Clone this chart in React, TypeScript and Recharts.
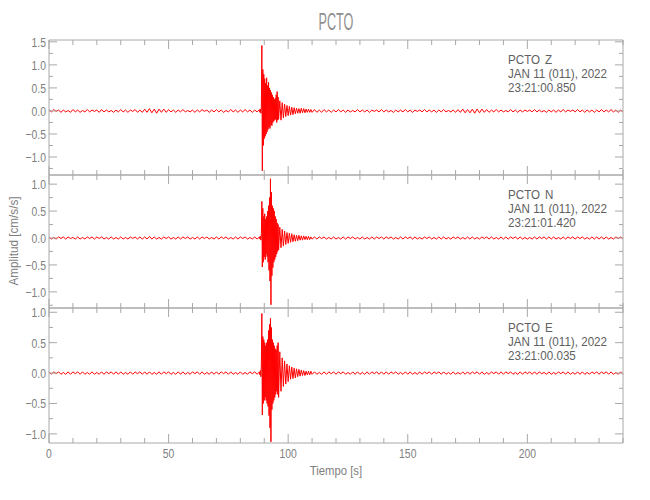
import React from "react";
import { LineChart, Line, XAxis, YAxis } from "recharts";

// sample times [s]; 1 s in the quiet parts, denser around the arrival
const TIME = [
  0, 1, 2, 3, 4, 5, 6, 7, 8, 9, 10, 11, 12, 13, 14, 15, 16, 17, 18, 19,
  20, 21, 22, 23, 24, 25, 26, 27, 28, 29, 30, 31, 32, 33, 34, 35, 36, 37, 38, 39,
  40, 41, 42, 43, 44, 45, 46, 47, 48, 49, 50, 51, 52, 53, 54, 55, 56, 57, 58, 59,
  60, 61, 62, 63, 64, 65, 66, 67, 68, 69, 70, 71, 72, 73, 74, 75, 76, 77, 78, 79,
  80, 81, 82, 83, 84, 85, 86, 87, 88,
  88.2, 88.4, 88.6, 88.8, 89.0, 89.2, 89.4, 89.6, 89.8, 90.0,
  90.2, 90.4, 90.6, 90.8, 91.0, 91.2, 91.4, 91.6, 91.8, 92.0,
  92.2, 92.4, 92.6, 92.8, 93.0, 93.2, 93.4, 93.6, 93.8, 94.0,
  94.2, 94.4, 94.6, 94.8, 95.0, 95.2, 95.4, 95.6, 95.8, 96.0,
  96.5, 97, 97.5, 98, 98.5, 99, 99.5, 100, 100.5, 101, 101.5, 102, 102.5, 103,
  103.5, 104, 104.5, 105, 105.5, 106, 106.5, 107, 107.5, 108, 108.5, 109, 109.5, 110,
  111, 112, 113, 114, 115, 116, 117, 118, 119, 120, 121, 122, 123, 124, 125, 126, 127, 128, 129, 130,
  131, 132, 133, 134, 135, 136, 137, 138, 139, 140, 141, 142, 143, 144, 145, 146, 147, 148, 149, 150,
  151, 152, 153, 154, 155, 156, 157, 158, 159, 160, 161, 162, 163, 164, 165, 166, 167, 168, 169, 170,
  171, 172, 173, 174, 175, 176, 177, 178, 179, 180, 181, 182, 183, 184, 185, 186, 187, 188, 189, 190,
  191, 192, 193, 194, 195, 196, 197, 198, 199, 200, 201, 202, 203, 204, 205, 206, 207, 208, 209, 210,
  211, 212, 213, 214, 215, 216, 217, 218, 219, 220, 221, 222, 223, 224, 225, 226, 227, 228, 229, 230,
  231, 232, 233, 234, 235, 236, 237, 238, 239, 240,
];

const COMP_Z = [
  0.02, -0.02, 0.03, -0.01, 0.02, -0.03, 0.02, -0.02, 0.01, -0.03,
  0.03, -0.02, 0.02, -0.03, 0.01, -0.02, 0.03, -0.02, 0.02, -0.01,
  0.02, -0.03, 0.03, -0.02, 0.02, -0.02, 0.01, -0.03, 0.02, -0.02,
  0.03, -0.02, 0.02, -0.03, 0.02, -0.01, 0.03, -0.03, 0.02, -0.03,
  0.04, -0.03, 0.05, -0.04, 0.04, -0.05, 0.04, -0.03, 0.04, -0.03,
  0.03, -0.02, 0.02, -0.03, 0.02, -0.02, 0.03, -0.02, 0.01, -0.02,
  0.02, -0.03, 0.02, -0.02, 0.03, -0.01, 0.02, -0.03, 0.02, -0.02,
  0.03, -0.02, 0.02, -0.03, 0.01, -0.02, 0.03, -0.02, 0.02, -0.03,
  0.02, -0.02, 0.03, -0.02, 0.02, -0.03, 0.02, -0.02, 0.03,
  -0.03, 0.04, -0.05, 0.1, 1.42, -1.3, 0.9, -0.75, 0.8, -0.6,
  0.7, -0.55, 0.6, -0.5, 0.72, -0.45, 0.55, -0.4, 0.62, -0.35,
  0.5, -0.38, 0.45, -0.3, 0.4, -0.32, 0.35, -0.25, 0.3, -0.22,
  0.25, -0.2, 0.28, -0.18, 0.35, -0.25, 0.42, -0.2, 0.3, -0.18,
  0.22, -0.2, 0.18, -0.15, 0.15, -0.12, 0.12, -0.1, 0.1, -0.09, 0.08, -0.08, 0.07, -0.06,
  0.06, -0.05, 0.05, -0.05, 0.06, -0.04, 0.05, -0.04, 0.04, -0.03, 0.04, -0.03, 0.03, -0.03,
  0.03, -0.03, 0.02, -0.03, 0.03, -0.02, 0.02, -0.03, 0.02, -0.02,
  0.03, -0.02, 0.02, -0.03, 0.02, -0.02, 0.01, -0.02, 0.03, -0.02,
  0.02, -0.02, 0.02, -0.03, 0.02, -0.01, 0.02, -0.02, 0.03, -0.02,
  0.02, -0.02, 0.01, -0.03, 0.02, -0.02, 0.02, -0.02, 0.03, -0.02,
  0.02, -0.03, 0.02, -0.01, 0.02, -0.02, 0.03, -0.02, 0.02, -0.02,
  0.02, -0.03, 0.02, -0.02, 0.03, -0.02, 0.01, -0.02, 0.02, -0.03,
  0.03, -0.03, 0.04, -0.04, 0.03, -0.04, 0.04, -0.05, 0.04, -0.04,
  0.04, -0.03, 0.03, -0.03, 0.02, -0.02, 0.03, -0.02, 0.02, -0.02,
  0.01, -0.02, 0.03, -0.02, 0.02, -0.03, 0.02, -0.02, 0.02, -0.01,
  0.02, -0.02, 0.03, -0.02, 0.02, -0.02, 0.01, -0.03, 0.02, -0.02,
  0.02, -0.03, 0.02, -0.02, 0.03, -0.02, 0.02, -0.01, 0.02, -0.02,
  0.03, -0.02, 0.02, -0.03, 0.02, -0.02, 0.02, -0.03, 0.02, -0.02,
  0.03, -0.02, 0.02, -0.02, 0.03, -0.02, 0.02, -0.03, 0.02, -0.02,
];

const COMP_N = [
  0.02, -0.02, 0.01, -0.02, 0.02, -0.01, 0.02, -0.02, 0.02, -0.01,
  0.01, -0.02, 0.02, -0.02, 0.01, -0.02, 0.02, -0.01, 0.02, -0.02,
  0.02, -0.01, 0.02, -0.02, 0.01, -0.02, 0.02, -0.02, 0.01, -0.02,
  0.02, -0.02, 0.01, -0.02, 0.02, -0.01, 0.02, -0.02, 0.02, -0.02,
  0.02, -0.02, 0.03, -0.02, 0.02, -0.02, 0.01, -0.02, 0.02, -0.01,
  0.02, -0.02, 0.01, -0.02, 0.02, -0.02, 0.02, -0.01, 0.02, -0.02,
  0.01, -0.02, 0.02, -0.02, 0.02, -0.01, 0.02, -0.02, 0.01, -0.02,
  0.02, -0.02, 0.02, -0.01, 0.02, -0.02, 0.01, -0.02, 0.02, -0.02,
  0.02, -0.01, 0.02, -0.02, 0.01, -0.02, 0.02, -0.02, 0.02,
  -0.02, 0.03, -0.04, 0.08, 0.68, -0.54, 0.55, -0.45, 0.4, -0.35,
  0.45, -0.4, 0.35, -0.3, 0.4, -0.35, 0.5, -0.45, 0.6, -0.6,
  0.75, -0.8, 1.1, -1.24, 0.85, -0.7, 0.6, -0.55, 0.55, -0.45,
  0.5, -0.4, 0.4, -0.35, 0.35, -0.3, 0.28, -0.25, 0.25, -0.22,
  0.2, -0.18, 0.16, -0.15, 0.13, -0.12, 0.1, -0.1, 0.09, -0.08, 0.08, -0.07, 0.06, -0.06,
  0.05, -0.05, 0.05, -0.04, 0.04, -0.04, 0.04, -0.03, 0.03, -0.03, 0.03, -0.03, 0.02, -0.02,
  0.02, -0.02, 0.02, -0.01, 0.02, -0.02, 0.01, -0.02, 0.02, -0.02,
  0.01, -0.02, 0.02, -0.02, 0.02, -0.01, 0.02, -0.02, 0.01, -0.02,
  0.02, -0.02, 0.01, -0.02, 0.02, -0.02, 0.02, -0.01, 0.02, -0.02,
  0.02, -0.01, 0.02, -0.02, 0.01, -0.02, 0.02, -0.02, 0.02, -0.01,
  0.02, -0.02, 0.02, -0.02, 0.01, -0.02, 0.02, -0.01, 0.02, -0.02,
  0.01, -0.02, 0.02, -0.02, 0.02, -0.02, 0.01, -0.02, 0.02, -0.01,
  0.02, -0.02, 0.01, -0.02, 0.02, -0.02, 0.02, -0.02, 0.01, -0.02,
  0.02, -0.01, 0.02, -0.02, 0.02, -0.02, 0.01, -0.02, 0.02, -0.02,
  0.02, -0.02, 0.02, -0.01, 0.02, -0.02, 0.02, -0.02, 0.01, -0.02,
  0.01, -0.02, 0.02, -0.02, 0.02, -0.01, 0.02, -0.02, 0.02, -0.02,
  0.02, -0.02, 0.01, -0.02, 0.02, -0.02, 0.02, -0.01, 0.02, -0.02,
  0.02, -0.01, 0.02, -0.02, 0.01, -0.02, 0.02, -0.02, 0.02, -0.02,
  0.02, -0.02, 0.02, -0.02, 0.01, -0.02, 0.02, -0.01, 0.02, -0.02,
];

const COMP_E = [
  0.02, -0.02, 0.02, -0.01, 0.02, -0.02, 0.01, -0.02, 0.02, -0.02,
  0.02, -0.01, 0.02, -0.02, 0.02, -0.02, 0.01, -0.02, 0.02, -0.02,
  0.01, -0.02, 0.02, -0.02, 0.02, -0.01, 0.02, -0.02, 0.02, -0.02,
  0.02, -0.02, 0.01, -0.02, 0.02, -0.02, 0.02, -0.01, 0.02, -0.02,
  0.02, -0.02, 0.02, -0.02, 0.01, -0.02, 0.02, -0.02, 0.02, -0.01,
  0.02, -0.02, 0.01, -0.02, 0.02, -0.02, 0.02, -0.02, 0.01, -0.02,
  0.02, -0.01, 0.02, -0.02, 0.02, -0.02, 0.01, -0.02, 0.02, -0.02,
  0.02, -0.02, 0.02, -0.01, 0.02, -0.02, 0.02, -0.02, 0.01, -0.02,
  0.02, -0.02, 0.01, -0.02, 0.02, -0.01, 0.02, -0.02, 0.02,
  -0.03, 0.04, -0.06, 0.15, 0.98, -0.69, 0.6, -0.5, 0.55, -0.45,
  0.5, -0.4, 0.45, -0.45, 0.5, -0.5, 0.55, -0.55, 0.7, -0.7,
  0.8, -0.9, 0.9, -1.13, 0.75, -0.6, 0.55, -0.5, 0.5, -0.45,
  0.45, -0.4, 0.4, -0.35, 0.38, -0.3, 0.45, -0.35, 0.5, -0.4,
  0.35, -0.3, 0.25, -0.22, 0.2, -0.18, 0.15, -0.14, 0.12, -0.1, 0.1, -0.09, 0.08, -0.08,
  0.07, -0.06, 0.06, -0.05, 0.05, -0.04, 0.04, -0.04, 0.03, -0.03, 0.03, -0.03, 0.03, -0.02,
  0.02, -0.02, 0.01, -0.02, 0.02, -0.02, 0.02, -0.01, 0.02, -0.02,
  0.02, -0.01, 0.02, -0.02, 0.01, -0.02, 0.02, -0.02, 0.02, -0.02,
  0.01, -0.02, 0.02, -0.02, 0.02, -0.01, 0.02, -0.02, 0.02, -0.02,
  0.02, -0.02, 0.02, -0.01, 0.02, -0.02, 0.01, -0.02, 0.02, -0.02,
  0.02, -0.02, 0.01, -0.02, 0.02, -0.02, 0.02, -0.01, 0.02, -0.02,
  0.02, -0.01, 0.02, -0.02, 0.02, -0.02, 0.01, -0.02, 0.02, -0.02,
  0.01, -0.02, 0.02, -0.02, 0.02, -0.02, 0.02, -0.01, 0.02, -0.02,
  0.02, -0.02, 0.01, -0.02, 0.02, -0.01, 0.02, -0.02, 0.02, -0.02,
  0.02, -0.01, 0.02, -0.02, 0.01, -0.02, 0.02, -0.02, 0.02, -0.01,
  0.02, -0.02, 0.02, -0.02, 0.02, -0.01, 0.01, -0.02, 0.02, -0.02,
  0.01, -0.02, 0.02, -0.01, 0.02, -0.02, 0.02, -0.02, 0.01, -0.02,
  0.02, -0.02, 0.02, -0.02, 0.01, -0.02, 0.02, -0.01, 0.02, -0.02,
  0.02, -0.01, 0.02, -0.02, 0.02, -0.02, 0.01, -0.02, 0.02, -0.02,
];

const X_TICKS = [0, 10, 20, 30, 40, 50, 60, 70, 80, 90, 100, 110, 120, 130, 140, 150, 160, 170, 180, 190, 200, 210, 220, 230, 240];
const Y_TICKS_Z = [-1.25, -1, -0.75, -0.5, -0.25, 0, 0.25, 0.5, 0.75, 1, 1.25, 1.5];
const Y_TICKS_N = [-1.25, -1, -0.75, -0.5, -0.25, 0, 0.25, 0.5, 0.75, 1];
const Y_TICKS_E = [-1, -0.75, -0.5, -0.25, 0, 0.25, 0.5, 0.75, 1];

const STATION = "PCTO";
const DATE = "JAN 11 (011), 2022";
const START_Z = "23:21:00.850";
const START_N = "23:21:01.420";
const START_E = "23:21:00.035";

const data = TIME.map((t, i) => ({ t, z: COMP_Z[i], n: COMP_N[i], e: COMP_E[i] }));

const FONT = '"Liberation Sans", Arial, sans-serif';
const AXIS = "#a8a8a8";
const TEXT = "#808080";
const NOTE = "#606060";
const LEFT = 49;
const RIGHT = 623;
const AX_W = 30;
const AX_H = 20;

const panels = [
  { key: "z", comp: "Z", start: START_Z, top: 40, bottom: 175, domain: [-1.39, 1.54], ticks: Y_TICKS_Z },
  { key: "n", comp: "N", start: START_N, top: 175, bottom: 308, domain: [-1.3, 1.17], ticks: Y_TICKS_N },
  { key: "e", comp: "E", start: START_E, top: 308, bottom: 443, domain: [-1.15, 1.07], ticks: Y_TICKS_E },
];

const fmtY = (v: number) => (v < 0 ? "\u2212" + Math.abs(v).toFixed(1) : v.toFixed(1));
const isMajorY = (v: number) => Math.abs(v * 2 - Math.round(v * 2)) < 1e-6;

// narrow, tall lettering like the plotting-package vector font
const Narrow = ({ x, y, sx, size, fill, anchor = "start", children }: any) => (
  <text
    transform={`translate(${x},${y}) scale(${sx},1)`}
    x={0}
    y={0}
    textAnchor={anchor}
    fill={fill}
    fontSize={size}
    fontFamily={FONT}
  >
    {children}
  </text>
);

const bottomTick = (labels: boolean) => (props: any) => {
  const { x, y, payload } = props;
  const major = payload.value % 50 === 0;
  return (
    <g>
      <line x1={x} x2={x} y1={y} y2={y - (major ? 9 : 5)} stroke={AXIS} />
      {labels && major && (
        <Narrow x={x} y={y + 15} sx={0.8} size={13} fill={TEXT} anchor="middle">
          {payload.value}
        </Narrow>
      )}
    </g>
  );
};

const topTick = (props: any) => {
  const { x, y, payload } = props;
  const major = payload.value % 50 === 0;
  return <line x1={x} x2={x} y1={y} y2={y + (major ? 9 : 5)} stroke={AXIS} />;
};

const leftTick = (props: any) => {
  const { x, y, payload } = props;
  const major = isMajorY(payload.value);
  return (
    <g>
      <line x1={x} x2={x + (major ? 8 : 4)} y1={y} y2={y} stroke={AXIS} />
      {major && (
        <Narrow x={x - 3} y={y + 5} sx={0.8} size={13} fill={TEXT} anchor="end">
          {fmtY(payload.value)}
        </Narrow>
      )}
    </g>
  );
};

const rightTick = (props: any) => {
  const { x, y, payload } = props;
  const major = isMajorY(payload.value);
  return <line x1={x} x2={x - (major ? 8 : 4)} y1={y} y2={y} stroke={AXIS} />;
};

export default function App() {
  return (
    <div style={{ position: "absolute", left: 0, top: 0, width: 650, height: 500, background: "#fff" }}>
      {panels.map((p, idx) => (
        <div key={p.key} style={{ position: "absolute", left: 0, top: 0 }}>
          <LineChart
            width={650}
            height={500}
            data={data}
            margin={{
              top: p.top - AX_H,
              bottom: 500 - p.bottom - AX_H,
              left: LEFT - AX_W,
              right: 650 - RIGHT - AX_W,
            }}
          >
            <XAxis
              dataKey="t"
              type="number"
              domain={[0, 240]}
              ticks={X_TICKS}
              height={AX_H}
              tickSize={0}
              tickMargin={0}
              tickLine={false}
              stroke={AXIS}
              interval={0}
              tick={bottomTick(idx === 2)}
            />
            <XAxis
              xAxisId="top"
              dataKey="t"
              orientation="top"
              type="number"
              domain={[0, 240]}
              ticks={X_TICKS}
              height={AX_H}
              tickSize={0}
              tickMargin={0}
              tickLine={false}
              stroke={AXIS}
              interval={0}
              tick={topTick}
            />
            <YAxis
              type="number"
              domain={p.domain}
              allowDataOverflow
              ticks={p.ticks}
              width={AX_W}
              tickSize={0}
              tickMargin={0}
              tickLine={false}
              stroke={AXIS}
              interval={0}
              tick={leftTick}
            />
            <YAxis
              yAxisId="right"
              orientation="right"
              type="number"
              domain={p.domain}
              allowDataOverflow
              ticks={p.ticks}
              width={AX_W}
              tickSize={0}
              tickMargin={0}
              tickLine={false}
              stroke={AXIS}
              interval={0}
              tick={rightTick}
            />
            <Line
              dataKey={p.key}
              type="linear"
              stroke="#ff0000"
              strokeWidth={1}
              dot={false}
              activeDot={false}
              isAnimationActive={false}
            />
          </LineChart>
        </div>
      ))}
      <svg width={650} height={500} style={{ position: "absolute", left: 0, top: 0, pointerEvents: "none" }}>
        <Narrow x={336} y={30} sx={0.55} size={23} fill="#909090" anchor="middle">
          {STATION}
        </Narrow>
        {panels.map((p) => (
          <g key={p.key}>
            <Narrow x={508} y={p.top + 24} sx={0.93} size={12.5} fill={NOTE}>{STATION}</Narrow>
            <Narrow x={545} y={p.top + 24} sx={0.93} size={12.5} fill={NOTE}>{p.comp}</Narrow>
            <Narrow x={508} y={p.top + 38} sx={0.93} size={12.5} fill={NOTE}>{DATE}</Narrow>
            <Narrow x={508} y={p.top + 52} sx={0.93} size={12.5} fill={NOTE}>{p.start}</Narrow>
          </g>
        ))}
        <g transform="rotate(-90 18 241)">
          <Narrow x={18} y={241} sx={0.9} size={13} fill={TEXT} anchor="middle">
            Amplitud [cm/s/s]
          </Narrow>
        </g>
        <Narrow x={336} y={475} sx={0.87} size={13} fill={TEXT} anchor="middle">
          Tiempo [s]
        </Narrow>
      </svg>
    </div>
  );
}
